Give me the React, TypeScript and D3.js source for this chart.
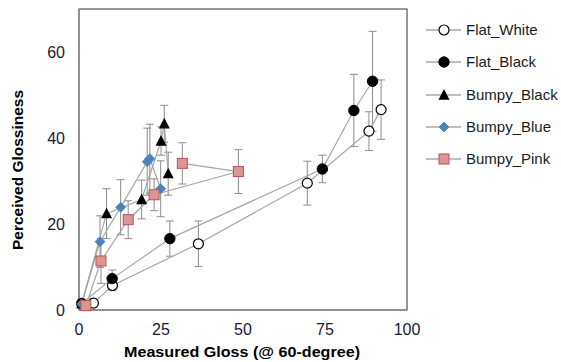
import React from "react";
import * as d3 from "d3";

const xTicks = [0, 25, 50, 75, 100];
const yTicks = [0, 20, 40, 60];

const seriesNames = ["Flat_White", "Flat_Black", "Bumpy_Black", "Bumpy_Blue", "Bumpy_Pink"];

const flatWhiteX = [4.4, 10.2, 36.4, 69.6, 88.4, 92.1];
const flatWhiteY = [1.6, 5.7, 15.4, 29.5, 41.6, 46.6];
const flatWhiteE = [1, 1.2, 5.3, 5.1, 4.5, 6.9];

const flatBlackX = [0.8, 10.1, 27.7, 74.2, 83.8, 89.5];
const flatBlackY = [1.5, 7.3, 16.6, 32.8, 46.4, 53.2];
const flatBlackE = [1, 2, 4.1, 3.2, 8.4, 11.6];

const bumpyBlackX = [0.8, 8.4, 19.1, 25.0, 26.0, 27.2];
const bumpyBlackY = [1.5, 22.4, 25.7, 39.3, 43.3, 31.7];
const bumpyBlackE = [1, 5.8, 4.5, 3.3, 4.3, 5];

const bumpyBlueX = [0.8, 6.4, 12.7, 20.8, 21.6, 24.9];
const bumpyBlueY = [1.4, 15.9, 23.9, 34.5, 35.2, 28.2];
const bumpyBlueE = [1, 6, 6.4, 7.8, 8, 6.5];

const bumpyPinkX = [2.1, 6.7, 15.0, 22.9, 48.6, 31.5];
const bumpyPinkY = [1.0, 11.4, 21.0, 26.8, 32.2, 34.1];
const bumpyPinkE = [0.8, 5.2, 4.4, 3.7, 5.1, 4.8];

const W = 561, H = 362;
const M = { left: 79, top: 9, right: 407, bottom: 310 };

type Pt = { x: number; y: number; e: number };
const zip = (xs: number[], ys: number[], es: number[]): Pt[] => xs.map((x, i) => ({ x, y: ys[i], e: es[i] }));

const seriesData = [
  zip(flatWhiteX, flatWhiteY, flatWhiteE),
  zip(flatBlackX, flatBlackY, flatBlackE),
  zip(bumpyBlackX, bumpyBlackY, bumpyBlackE),
  zip(bumpyBlueX, bumpyBlueY, bumpyBlueE),
  zip(bumpyPinkX, bumpyPinkY, bumpyPinkE),
];

const FONT = "'Liberation Sans', Arial, sans-serif";

function Marker({ kind, cx, cy }: { kind: number; cx: number; cy: number }) {
  if (kind === 0) return <circle cx={cx} cy={cy} r={5} fill="#fff" stroke="#000" strokeWidth={1.2} />;
  if (kind === 1) return <circle cx={cx} cy={cy} r={5.2} fill="#000" stroke="#000" />;
  if (kind === 2) {
    const s = 5.5;
    return <path d={`M${cx},${cy - s - 0.5} L${cx + s},${cy + s * 0.85} L${cx - s},${cy + s * 0.85} Z`} fill="#000" />;
  }
  if (kind === 3) {
    const s = 5;
    return <path d={`M${cx},${cy - s} L${cx + s},${cy} L${cx},${cy + s} L${cx - s},${cy} Z`} fill="#4f81bd" stroke="#4f81bd" strokeWidth={0.8} />;
  }
  return <rect x={cx - 5} y={cy - 5} width={10} height={10} fill="#d99694" stroke="#c0504d" strokeWidth={1} />;
}

export default function App() {
  const x = d3.scaleLinear().domain([0, 100]).range([M.left, M.right]);
  const y = d3.scaleLinear().domain([0, 70]).range([M.bottom, M.top]);
  const line = d3.line<Pt>().x((d) => x(d.x)).y((d) => y(d.y));
  const legendY = [30, 62, 95, 127, 159];

  return (
    <svg width={W} height={H} style={{ position: "absolute", left: 0, top: 0 }}>
      <rect x={0} y={0} width={W} height={H} fill="#fff" />
      <rect x={M.left} y={M.top} width={M.right - M.left} height={M.bottom - M.top} fill="none" stroke="#333" strokeWidth={1} />
      <line x1={M.left} x2={M.left} y1={M.top} y2={M.bottom} stroke="#888" />
      <line x1={M.left} x2={M.right} y1={M.bottom} y2={M.bottom} stroke="#888" />
      {yTicks.map((t) => (
        <text key={t} x={65} y={y(t)} dy="0.36em" textAnchor="end" fontFamily={FONT} fontSize={16} fill="#1a1a33">{t}</text>
      ))}
      {xTicks.map((t) => (
        <text key={t} x={x(t)} y={335} textAnchor="middle" fontFamily={FONT} fontSize={16} fill="#1a1a33">{t}</text>
      ))}
      <text x={124} y={357} textLength={236} lengthAdjust="spacingAndGlyphs" fontFamily={FONT} fontWeight="bold" fontSize={15} fill="#000">Measured Gloss (@ 60-degree)</text>
      <text transform={`translate(23,250) rotate(-90)`} textLength={160} lengthAdjust="spacingAndGlyphs" fontFamily={FONT} fontWeight="bold" fontSize={15} fill="#000">Perceived Glossiness</text>

      {seriesData.map((s, k) => (
        <g key={"e" + k} stroke="#8c8c8c" strokeWidth={1}>
          {s.map((d, i) => (
            <g key={i}>
              <line x1={x(d.x)} x2={x(d.x)} y1={y(d.y - d.e)} y2={y(d.y + d.e)} />
              <line x1={x(d.x) - 4} x2={x(d.x) + 4} y1={y(d.y - d.e)} y2={y(d.y - d.e)} />
              <line x1={x(d.x) - 4} x2={x(d.x) + 4} y1={y(d.y + d.e)} y2={y(d.y + d.e)} />
            </g>
          ))}
        </g>
      ))}
      {seriesData.map((s, k) => (
        <path key={"l" + k} d={line(s) || ""} fill="none" stroke="#a6a6a6" strokeWidth={1.2} />
      ))}
      {seriesData.map((s, k) => (
        <g key={"m" + k}>
          {s.map((d, i) => <Marker key={i} kind={k} cx={x(d.x)} cy={y(d.y)} />)}
        </g>
      ))}

      {seriesNames.map((n, k) => (
        <g key={n}>
          <line x1={426} x2={461} y1={legendY[k]} y2={legendY[k]} stroke="#7f7f7f" strokeWidth={1.2} />
          <Marker kind={k} cx={444} cy={legendY[k]} />
          <text x={466} y={legendY[k]} dy="0.36em" fontFamily={FONT} fontSize={15} fill="#1a1a1a">{n}</text>
        </g>
      ))}
    </svg>
  );
}
